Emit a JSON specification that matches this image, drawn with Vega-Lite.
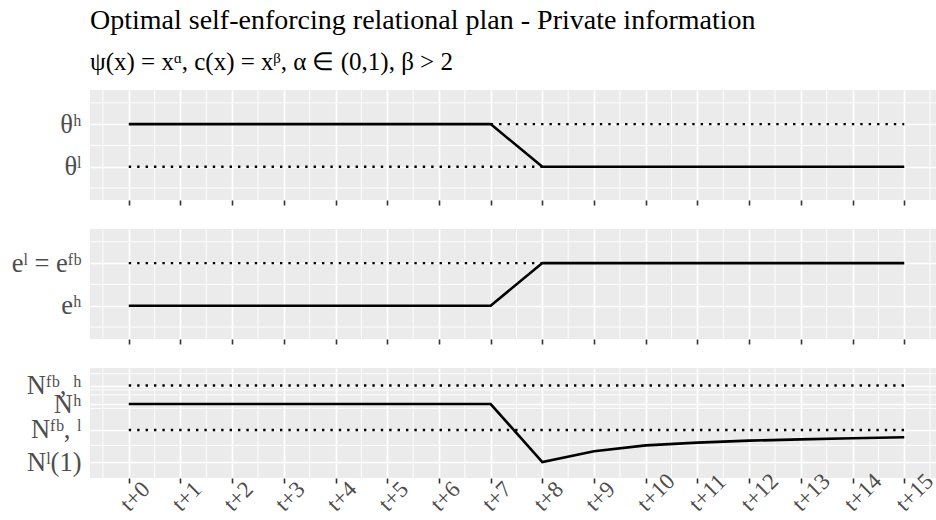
{
  "$schema": "https://vega.github.io/schema/vega-lite/v6.json",
  "padding": {"left": 11, "top": 6, "right": 0, "bottom": 0},
  "spacing": 22,
  "config": {
    "font": "Liberation Serif",
    "view": {"fill": "#EBEBEB", "stroke": null},
    "axis": {"domain": false, "labelColor": "#4D4D4D", "labelFont": "Liberation Serif", "tickColor": "#333333", "gridColor": "#FFFFFF", "gridWidth": 1.7, "title": null, "labelOverlap": false}
  },
  "datasets": {
    "lines": [
      {"p": 1, "s": "solid", "t": 0, "v": 1}, {"p": 1, "s": "solid", "t": 1, "v": 1}, {"p": 1, "s": "solid", "t": 2, "v": 1}, {"p": 1, "s": "solid", "t": 3, "v": 1},
      {"p": 1, "s": "solid", "t": 4, "v": 1}, {"p": 1, "s": "solid", "t": 5, "v": 1}, {"p": 1, "s": "solid", "t": 6, "v": 1}, {"p": 1, "s": "solid", "t": 7, "v": 1},
      {"p": 1, "s": "solid", "t": 8, "v": 0}, {"p": 1, "s": "solid", "t": 9, "v": 0}, {"p": 1, "s": "solid", "t": 10, "v": 0}, {"p": 1, "s": "solid", "t": 11, "v": 0},
      {"p": 1, "s": "solid", "t": 12, "v": 0}, {"p": 1, "s": "solid", "t": 13, "v": 0}, {"p": 1, "s": "solid", "t": 14, "v": 0}, {"p": 1, "s": "solid", "t": 15, "v": 0},
      {"p": 1, "s": "dotA", "t": 0, "v": 0}, {"p": 1, "s": "dotA", "t": 8, "v": 0},
      {"p": 1, "s": "dotB", "t": 7, "v": 1}, {"p": 1, "s": "dotB", "t": 15, "v": 1},
      {"p": 2, "s": "solid", "t": 0, "v": 0}, {"p": 2, "s": "solid", "t": 1, "v": 0}, {"p": 2, "s": "solid", "t": 2, "v": 0}, {"p": 2, "s": "solid", "t": 3, "v": 0},
      {"p": 2, "s": "solid", "t": 4, "v": 0}, {"p": 2, "s": "solid", "t": 5, "v": 0}, {"p": 2, "s": "solid", "t": 6, "v": 0}, {"p": 2, "s": "solid", "t": 7, "v": 0},
      {"p": 2, "s": "solid", "t": 8, "v": 1}, {"p": 2, "s": "solid", "t": 9, "v": 1}, {"p": 2, "s": "solid", "t": 10, "v": 1}, {"p": 2, "s": "solid", "t": 11, "v": 1},
      {"p": 2, "s": "solid", "t": 12, "v": 1}, {"p": 2, "s": "solid", "t": 13, "v": 1}, {"p": 2, "s": "solid", "t": 14, "v": 1}, {"p": 2, "s": "solid", "t": 15, "v": 1},
      {"p": 2, "s": "dotA", "t": 0, "v": 1}, {"p": 2, "s": "dotA", "t": 8, "v": 1},
      {"p": 3, "s": "solid", "t": 0, "v": 1.337}, {"p": 3, "s": "solid", "t": 1, "v": 1.337}, {"p": 3, "s": "solid", "t": 2, "v": 1.337}, {"p": 3, "s": "solid", "t": 3, "v": 1.337},
      {"p": 3, "s": "solid", "t": 4, "v": 1.337}, {"p": 3, "s": "solid", "t": 5, "v": 1.337}, {"p": 3, "s": "solid", "t": 6, "v": 1.337}, {"p": 3, "s": "solid", "t": 7, "v": 1.337},
      {"p": 3, "s": "solid", "t": 8, "v": 0}, {"p": 3, "s": "solid", "t": 9, "v": 0.25}, {"p": 3, "s": "solid", "t": 10, "v": 0.384}, {"p": 3, "s": "solid", "t": 11, "v": 0.447},
      {"p": 3, "s": "solid", "t": 12, "v": 0.493}, {"p": 3, "s": "solid", "t": 13, "v": 0.523}, {"p": 3, "s": "solid", "t": 14, "v": 0.547}, {"p": 3, "s": "solid", "t": 15, "v": 0.57},
      {"p": 3, "s": "dotA", "t": 0, "v": 1.763}, {"p": 3, "s": "dotA", "t": 15, "v": 1.763},
      {"p": 3, "s": "dotB", "t": 0, "v": 0.74}, {"p": 3, "s": "dotB", "t": 15, "v": 0.74}
    ],
    "minorX": [
      {"t": -0.5}, {"t": 0.5}, {"t": 1.5}, {"t": 2.5}, {"t": 3.5}, {"t": 4.5}, {"t": 5.5}, {"t": 6.5}, {"t": 7.5},
      {"t": 8.5}, {"t": 9.5}, {"t": 10.5}, {"t": 11.5}, {"t": 12.5}, {"t": 13.5}, {"t": 14.5}, {"t": 15.5}
    ],
    "minorY12": [{"v": -0.5}, {"v": 0.5}, {"v": 1.5}],
    "minorY3": [{"v": 2.035}, {"v": 1.663}, {"v": 1.547}, {"v": 1.237}, {"v": 0.384}]
  },
  "vconcat": [
    {
      "width": 853, "height": 110,
      "title": {
        "text": "Optimal self-enforcing relational plan - Private information",
        "subtitle": "ψ(x) = xᵅ, c(x) = xᵝ, α  ∈  (0,1), β > 2",
        "anchor": "start", "frame": "group", "font": "Liberation Serif", "subtitleFont": "Liberation Serif",
        "fontSize": 28, "subtitleFontSize": 25, "fontWeight": "normal", "color": "#000000", "subtitleColor": "#000000",
        "subtitlePadding": 15, "offset": 15
      },
      "layer": [
        {"data": {"name": "minorX"}, "mark": {"type": "rule", "color": "#FFFFFF", "strokeWidth": 0.9},
         "encoding": {"x": {"field": "t", "type": "quantitative", "scale": {"domain": [-0.75, 15.75], "nice": false, "zero": false},
           "axis": {"values": [0,1,2,3,4,5,6,7,8,9,10,11,12,13,14,15], "labels": false, "tickSize": 5, "tickWidth": 1.6, "grid": true}}}},
        {"data": {"name": "minorY12"}, "mark": {"type": "rule", "color": "#FFFFFF", "strokeWidth": 0.9},
         "encoding": {"y": {"field": "v", "type": "quantitative", "scale": {"domain": [-0.78, 1.8], "nice": false, "zero": false},
           "axis": {"values": [0, 1], "labelExpr": "datum.value > 0.5 ? 'θʰ' : 'θˡ'", "ticks": false, "labelFontSize": 26.5, "labelPadding": 9, "labelOverlap": false, "grid": true}}}},
        {"data": {"name": "lines"}, "transform": [{"filter": "datum.p == 1 && datum.s != 'solid'"}],
         "mark": {"type": "line", "color": "#000000", "strokeWidth": 2.4, "strokeDash": [2.4, 6], "strokeCap": "butt"},
         "encoding": {"x": {"field": "t", "type": "quantitative"}, "y": {"field": "v", "type": "quantitative"}, "detail": {"field": "s"}}},
        {"data": {"name": "lines"}, "transform": [{"filter": "datum.p == 1 && datum.s == 'solid'"}],
         "mark": {"type": "line", "color": "#000000", "strokeWidth": 2.6},
         "encoding": {"x": {"field": "t", "type": "quantitative"}, "y": {"field": "v", "type": "quantitative"}}}
      ]
    },
    {
      "width": 853, "height": 110,
      "layer": [
        {"data": {"name": "minorX"}, "mark": {"type": "rule", "color": "#FFFFFF", "strokeWidth": 0.9},
         "encoding": {"x": {"field": "t", "type": "quantitative", "scale": {"domain": [-0.75, 15.75], "nice": false, "zero": false},
           "axis": {"values": [0,1,2,3,4,5,6,7,8,9,10,11,12,13,14,15], "labels": false, "tickSize": 5, "tickWidth": 1.6, "grid": true}}}},
        {"data": {"name": "minorY12"}, "mark": {"type": "rule", "color": "#FFFFFF", "strokeWidth": 0.9},
         "encoding": {"y": {"field": "v", "type": "quantitative", "scale": {"domain": [-0.78, 1.8], "nice": false, "zero": false},
           "axis": {"values": [0, 1], "labelExpr": "datum.value > 0.5 ? 'eˡ = eᶠᵇ' : 'eʰ'", "ticks": false, "labelFontSize": 26.5, "labelPadding": 9, "labelOverlap": false, "grid": true}}}},
        {"data": {"name": "lines"}, "transform": [{"filter": "datum.p == 2 && datum.s != 'solid'"}],
         "mark": {"type": "line", "color": "#000000", "strokeWidth": 2.4, "strokeDash": [2.4, 6], "strokeCap": "butt"},
         "encoding": {"x": {"field": "t", "type": "quantitative"}, "y": {"field": "v", "type": "quantitative"}, "detail": {"field": "s"}}},
        {"data": {"name": "lines"}, "transform": [{"filter": "datum.p == 2 && datum.s == 'solid'"}],
         "mark": {"type": "line", "color": "#000000", "strokeWidth": 2.6},
         "encoding": {"x": {"field": "t", "type": "quantitative"}, "y": {"field": "v", "type": "quantitative"}}}
      ]
    },
    {
      "width": 853, "height": 110,
      "layer": [
        {"data": {"name": "minorX"}, "mark": {"type": "rule", "color": "#FFFFFF", "strokeWidth": 0.9},
         "encoding": {"x": {"field": "t", "type": "quantitative", "scale": {"domain": [-0.75, 15.75], "nice": false, "zero": false},
           "axis": {"values": [0,1,2,3,4,5,6,7,8,9,10,11,12,13,14,15], "labelExpr": "'t+' + datum.value", "labelAngle": -45, "labelAlign": "left", "labelBaseline": "alphabetic",
             "labelPadding": 29, "labelFontSize": 23, "labelOverlap": false, "labelFlush": false, "labelBound": false, "tickSize": 5, "tickWidth": 1.6, "grid": true}}}},
        {"data": {"name": "minorY3"}, "mark": {"type": "rule", "color": "#FFFFFF", "strokeWidth": 0.9},
         "encoding": {"y": {"field": "v", "type": "quantitative", "scale": {"domain": [-0.367, 2.167], "nice": false, "zero": false},
           "axis": {"values": [0, 0.74, 1.337, 1.763], "labelExpr": "datum.value > 1.6 ? 'Nᶠᵇ, ʰ' : datum.value > 1.2 ? 'Nʰ' : datum.value > 0.5 ? 'Nᶠᵇ, ˡ' : 'Nˡ(1)'", "ticks": false, "labelFontSize": 26.5, "labelPadding": 9, "labelOverlap": false, "grid": true}}}},
        {"data": {"name": "lines"}, "transform": [{"filter": "datum.p == 3 && datum.s != 'solid'"}],
         "mark": {"type": "line", "color": "#000000", "strokeWidth": 2.4, "strokeDash": [2.4, 6], "strokeCap": "butt"},
         "encoding": {"x": {"field": "t", "type": "quantitative"},
           "y": {"field": "v", "type": "quantitative", "axis": {"values": [0, 0.74, 1.337, 1.763], "labelExpr": "datum.value > 1.6 ? 'Nᶠᵇ, ʰ' : datum.value > 1.2 ? 'Nʰ' : datum.value > 0.5 ? 'Nᶠᵇ, ˡ' : 'Nˡ(1)'", "ticks": false, "labelFontSize": 26.5, "labelPadding": 9, "labelOverlap": false, "grid": true}},
           "detail": {"field": "s"}}},
        {"data": {"name": "lines"}, "transform": [{"filter": "datum.p == 3 && datum.s == 'solid'"}],
         "mark": {"type": "line", "color": "#000000", "strokeWidth": 2.6},
         "encoding": {"x": {"field": "t", "type": "quantitative"},
           "y": {"field": "v", "type": "quantitative", "axis": {"values": [0, 0.74, 1.337, 1.763], "labelExpr": "datum.value > 1.6 ? 'Nᶠᵇ, ʰ' : datum.value > 1.2 ? 'Nʰ' : datum.value > 0.5 ? 'Nᶠᵇ, ˡ' : 'Nˡ(1)'", "ticks": false, "labelFontSize": 26.5, "labelPadding": 9, "labelOverlap": false, "grid": true}}}}
      ]
    }
  ]
}
